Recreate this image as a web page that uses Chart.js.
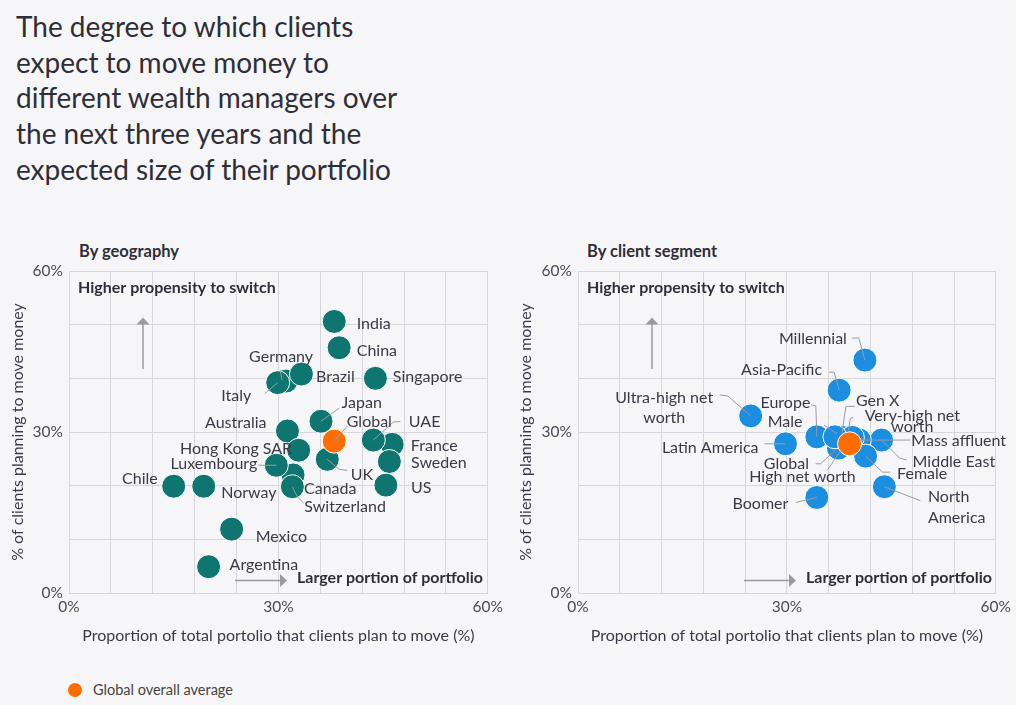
<!DOCTYPE html>
<html>
<head>
<meta charset="utf-8">
<script src="https://cdn.jsdelivr.net/npm/chart.js@4"></script>
<style>
  html, body { margin:0; padding:0; background:#f6f6f9; width:1016px; height:705px; overflow:hidden; font-family: Lato, "Noto Sans", sans-serif; }
  #title { position:absolute; left:16px; top:9px; font-size:28px; line-height:35.7px; color:#2e2e38; }
  .sub { position:absolute; top:241px; font-weight:bold; font-size:16.5px; line-height:20px; color:#2e2e38; }
  .wrap { position:absolute; top:230px; width:508px; height:430px; }
  #legend { position:absolute; left:68px; top:681px; font-size:14.5px; color:#444; line-height:18px; }
  #legend span.dot { display:inline-block; width:14px; height:14px; border-radius:50%; background:#ff6d00; vertical-align:-2px; margin-right:11px; }
</style>
</head>
<body>
<div id="title">The degree to which clients<br>expect to move money to<br>different wealth managers over<br>the next three years and the<br>expected size of their portfolio</div>
<div class="sub" style="left:79px">By geography</div>
<div class="sub" style="left:587px">By client segment</div>
<div class="wrap" style="left:0"><canvas id="c1" width="508" height="430"></canvas></div>
<div class="wrap" style="left:508px"><canvas id="c2" width="508" height="430"></canvas></div>
<div id="legend"><span class="dot"></span>Global overall average</div>
<script>
// ---------- DATA ----------
const geoNames = ['Chile','Norway','Mexico','Argentina','Australia','Germany','Canada','Luxembourg','Switzerland','Hong Kong SAR','Brazil','Italy','India','China','Singapore','Japan','UK','France','UAE','Sweden','US'];
const geoX     = [15.0, 19.3, 23.3, 20.0, 31.3, 31.1, 32.1, 29.7, 32.0, 32.9, 33.3, 29.9, 38.0, 38.7, 43.9, 36.1, 37.0, 46.3, 43.6, 45.9, 45.4];
const geoY     = [19.9, 19.9, 11.9,  4.9, 30.2, 39.5, 22.0, 23.8, 19.8, 26.6, 40.8, 39.2, 50.6, 45.7, 40.0, 32.0, 24.9, 27.7, 28.5, 24.5, 20.1];
const geoGlobalX = [38.0];
const geoGlobalY = [28.3];

const segNames = ['Ultra-high net worth','Latin America','Boomer','Europe','Asia-Pacific','Millennial','North America','Middle East','Mass affluent','Female','High net worth','Gen X','Very-high net worth','Male'];
const segX     = [24.8, 29.8, 34.3, 34.3, 37.5, 41.2, 44.0, 43.6, 40.4, 41.3, 37.4, 37.9, 39.4, 36.9];
const segY     = [33.0, 27.8, 17.8, 29.1, 37.8, 43.4, 19.8, 28.5, 28.5, 25.5, 27.0, 29.0, 29.0, 29.1];
const segGlobalX = [39.0];
const segGlobalY = [27.8];

const axisTickLabels = [0, 30, 60];
const xAxisTitle = 'Proportion of total portolio that clients plan to move (%)';
const yAxisTitle = '% of clients planning to move money';

// ---------- LABEL LAYOUT (pixel offsets from each point) ----------
const geoLayout = {
  'Chile': {dx:-16, dy:-7, align:'right'},
  'Norway': {dx:17.5, dy:7, align:'left'},
  'Mexico': {dx:24, dy:8, align:'left'},
  'Argentina': {dx:21, dy:-2, align:'left'},
  'Australia': {dx:-21, dy:-8, align:'right'},
  'Canada': {dx:11, dy:14, align:'left'},
  'Luxembourg': {dx:-19, dy:-1, align:'right', line:[[-18,0],[0,0]]},
  'Switzerland': {dx:12, dy:20, align:'left', line:[[0,0],[5,10],[11,16]]},
  'Hong Kong SAR': {dx:-6.5, dy:-1, align:'right'},
  'Germany': {dx:-5, dy:-24, align:'center', line:[[-6,-11],[-4,-1]]},
  'Brazil': {dx:14.6, dy:2.7, align:'left'},
  'Italy': {dx:-26.5, dy:13, align:'right', line:[[-13,11],[0,0]]},
  'India': {dx:22.5, dy:2, align:'left'},
  'China': {dx:17.6, dy:3, align:'left'},
  'Singapore': {dx:17.4, dy:-1.6, align:'left'},
  'Japan': {dx:20.6, dy:-18.6, align:'left', line:[[0,0],[18,-13]]},
  'UK': {dx:23.5, dy:15, align:'left', line:[[0,0],[12,10],[20,11]]},
  'France': {dx:18.7, dy:1.4, align:'left'},
  'UAE': {dx:35.5, dy:-18.4, align:'left', line:[[0,0],[20,-18],[27,-18.5]]},
  'Sweden': {dx:21.6, dy:1, align:'left'},
  'US': {dx:25, dy:2.6, align:'left'},
  'Global': {dx:12.5, dy:-19.3, align:'left', line:[[0,0],[13,-15]]}
};
const segLayout = {
  'Ultra-high net worth': {dx:-86.5, dy:-7.6, align:'center', lines:['Ultra-high net','worth'], lh:20, line:[[-31,-21],[-23,-20],[0,0]]},
  'Latin America': {dx:-27, dy:4, align:'right', line:[[-21,0],[0,0]]},
  'Boomer': {dx:-28.5, dy:6, align:'right', line:[[-21,5],[0,0]]},
  'Europe': {dx:-6.5, dy:-33.5, align:'right', line:[[-6,-32],[-1,-31],[0,0]]},
  'Asia-Pacific': {dx:-17, dy:-20, align:'right', line:[[-10,-18],[-5,-18],[0,0]]},
  'Millennial': {dx:-18, dy:-21, align:'right', line:[[-13,-22],[-6,-22],[0,0]]},
  'North America': {dx:43.5, dy:21, align:'left', lines:['North','America'], lh:21, line:[[0,0],[36,14]]},
  'Middle East': {dx:31, dy:22, align:'left', line:[[0,0],[18,18],[25,20]]},
  'Mass affluent': {dx:52, dy:1, align:'left', line:[[0,0],[51,0]]},
  'Female': {dx:31.5, dy:18, align:'left', line:[[0,0],[17,16],[25,16]]},
  'High net worth': {dx:-36, dy:29, align:'center', line:[[-11,22],[2,3]]},
  'Gen X': {dx:14, dy:-37, align:'left', line:[[13,-31],[4,-31],[0,-4]]},
  'Very-high net worth': {dx:60, dy:-16.2, align:'center', lines:['Very-high net','worth'], lh:11, line:[[1,-20],[-2,-19],[-4,-7]]},
  'Male': {dx:-32.5, dy:-15, align:'right', line:[[-11,-12],[2,-3]]},
  'Global': {dx:-40.6, dy:20, align:'right', line:[[-34,20],[-29,20],[-14,6]]}
};

// ---------- PLUGINS ----------
const FONT = 'Lato, "Noto Sans", sans-serif';
const labelPlugin = {
  id: 'pointLabels',
  afterDatasetsDraw(chart, args, opts) {
    const ctx = chart.ctx;
    const layout = opts.layout || {};
    const items = [];
    chart.data.datasets.forEach((ds, di) => {
      const meta = chart.getDatasetMeta(di);
      meta.data.forEach((pt, i) => {
        const name = ds.names[i];
        const L = layout[name];
        if (L) items.push({x: pt.x, y: pt.y, L, name});
      });
    });
    ctx.save();
    ctx.strokeStyle = '#9a9aa2';
    ctx.lineWidth = 1;
    items.forEach(({x, y, L}) => {
      if (!L.line) return;
      ctx.beginPath();
      L.line.forEach(([a, b], k) => k ? ctx.lineTo(x + a, y + b) : ctx.moveTo(x + a, y + b));
      ctx.stroke();
    });
    ctx.fillStyle = '#3a3a46';
    ctx.font = '16px ' + FONT;
    ctx.textBaseline = 'middle';
    items.forEach(({x, y, L, name}) => {
      ctx.textAlign = L.align;
      const lines = L.lines || [name];
      const lh = L.lh || 20;
      const y0 = y + L.dy - (lines.length - 1) * lh / 2;
      lines.forEach((t, k) => ctx.fillText(t, x + L.dx, y0 + k * lh));
    });
    ctx.restore();
  }
};

const decoPlugin = {
  id: 'deco',
  afterDraw(chart) {
    const ctx = chart.ctx;
    const a = chart.chartArea;
    ctx.save();
    ctx.fillStyle = '#2e2e38';
    ctx.font = 'bold 16px ' + FONT;
    ctx.textBaseline = 'middle';
    ctx.textAlign = 'left';
    ctx.fillText('Higher propensity to switch', a.left + 9, a.top + 17);
    ctx.fillText('Larger portion of portfolio', a.left + 228, a.bottom - 15.5);
    ctx.strokeStyle = '#9a9aa2';
    ctx.fillStyle = '#9a9aa2';
    ctx.lineWidth = 1.5;
    // vertical arrow
    const vx = a.left + 74;
    ctx.beginPath(); ctx.moveTo(vx, a.top + 98); ctx.lineTo(vx, a.top + 52); ctx.stroke();
    ctx.beginPath(); ctx.moveTo(vx - 6.5, a.top + 53.5); ctx.lineTo(vx, a.top + 46.5); ctx.lineTo(vx + 6.5, a.top + 53.5); ctx.closePath(); ctx.fill();
    // horizontal arrow
    const hy = a.bottom - 12.5;
    ctx.beginPath(); ctx.moveTo(a.left + 166, hy); ctx.lineTo(a.left + 212, hy); ctx.stroke();
    ctx.beginPath(); ctx.moveTo(a.left + 211, hy - 6.5); ctx.lineTo(a.left + 218, hy); ctx.lineTo(a.left + 211, hy + 6.5); ctx.closePath(); ctx.fill();
    ctx.restore();
  }
};

function makeChart(id, names, xs, ys, gx, gy, color, layout, yWidth) {
  const pts = xs.map((x, i) => ({x, y: ys[i]}));
  const gpts = gx.map((x, i) => ({x, y: gy[i]}));
  const tickCb = v => axisTickLabels.includes(v) ? v + '%' : '';
  return new Chart(document.getElementById(id), {
    type: 'scatter',
    data: {
      datasets: [
        {names: ['Global'], data: gpts, backgroundColor: '#ff6d00', borderColor: '#ffffff', borderWidth: 1, pointRadius: 12, pointHoverRadius: 12},
        {names: names, data: pts, backgroundColor: color, borderColor: '#ffffff', borderWidth: 1, pointRadius: 12, pointHoverRadius: 12}
      ]
    },
    options: {
      responsive: false,
      animation: false,
      devicePixelRatio: 1,
      events: [],
      layout: {padding: {top: 41, right: 16, left: 0, bottom: 0}},
      plugins: {
        legend: {display: false},
        tooltip: {enabled: false},
        pointLabels: {layout}
      },
      scales: {
        x: {
          type: 'linear', min: 0, max: 60,
          afterFit(s) { s.height = 67; },
          ticks: {stepSize: 6, autoSkip: false, maxRotation: 0, callback: tickCb, color: '#4a4a55', padding: 5, font: {size: 15.5, family: FONT}},
          grid: {color: '#d6d6dc', drawTicks: false},
          border: {color: '#d6d6dc'},
          title: {display: true, text: xAxisTitle, color: '#3a3a46', padding: {top: 0, bottom: 15}, font: {size: 16, family: FONT}}
        },
        y: {
          type: 'linear', min: 0, max: 60,
          afterFit(s) { s.width = yWidth; },
          ticks: {stepSize: 10, autoSkip: false, callback: tickCb, color: '#4a4a55', padding: 6, font: {size: 15.5, family: FONT}},
          grid: {color: '#d6d6dc', drawTicks: false},
          border: {color: '#d6d6dc'},
          title: {display: true, text: yAxisTitle, color: '#3a3a46', padding: {top: 8, bottom: 0}, font: {size: 16, family: FONT}}
        }
      }
    },
    plugins: [labelPlugin, decoPlugin]
  });
}

makeChart('c1', geoNames, geoX, geoY, geoGlobalX, geoGlobalY, '#0f7570', geoLayout, 69);
makeChart('c2', segNames, segX, segY, segGlobalX, segGlobalY, '#1b8ee0', segLayout, 70);
</script>
</body>
</html>
